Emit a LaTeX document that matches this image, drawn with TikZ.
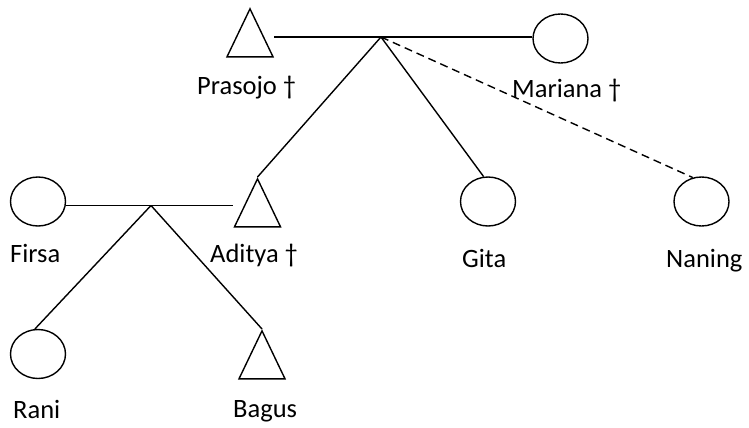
\documentclass[tikz,border=0pt]{standalone}
\usepackage{fontspec}
\setmainfont{Carlito}
\usetikzlibrary{shapes.geometric}
\begin{document}
\begin{tikzpicture}[x=1pt,y=-1pt,
  male/.style={draw, isosceles triangle, shape border rotate=90, isosceles triangle stretches, minimum width=46pt, minimum height=48pt, inner sep=0pt, line width=1.4pt},
  female/.style={draw, ellipse, minimum width=55pt, minimum height=49pt, inner sep=0pt, line width=1.4pt},
  lbl/.style={anchor=base west, inner sep=0pt, font=\fontsize{26.5}{30}\selectfont},
  tie/.style={line width=1.4pt},
  desc/.style={line width=1.4pt},
  dsh/.style={line width=1.4pt, dash pattern=on 8pt off 5pt}]
\useasboundingbox (0,0) rectangle (749,428);
\node[male, anchor=apex] (prasojo) at (250,7) {};
\node[female] (mariana) at (560.5,38.5) {};
\node[female] (firsa) at (38,201.5) {};
\node[male, anchor=apex] (aditya) at (257.5,177) {};
\node[female] (gita) at (488,201.5) {};
\node[female] (naning) at (701.5,201.5) {};
\node[female] (rani) at (38,354) {};
\node[male, anchor=apex] (bagus) at (262,329) {};
\coordinate (pj) at (381,37);
\coordinate (fj) at (151,205.5);
\draw[tie] (pj -| prasojo.right corner) -- (pj -| mariana.west);
\draw[desc] (pj) -- (aditya.apex);
\draw[desc] (pj) -- (gita.100);
\draw[dsh] (pj) -- (naning.110);
\draw[tie] (fj -| firsa.east) -- (fj -| aditya.left corner);
\draw[desc] (fj) -- (rani.97);
\draw[desc] (fj) -- (bagus.apex);
\node[lbl] (lprasojo) at (197,94) {Prasojo †};
\node[lbl] (lmariana) at (512,97) {Mariana †};
\node[lbl] (lfirsa) at (10,262) {Firsa};
\node[lbl] (laditya) at (210,262) {Aditya †};
\node[lbl] (lgita) at (462,267) {Gita};
\node[lbl] (lnaning) at (666,267) {Naning};
\node[lbl] (lrani) at (13,418) {Rani};
\node[lbl] (lbagus) at (233,417) {Bagus};
\end{tikzpicture}
\end{document}
